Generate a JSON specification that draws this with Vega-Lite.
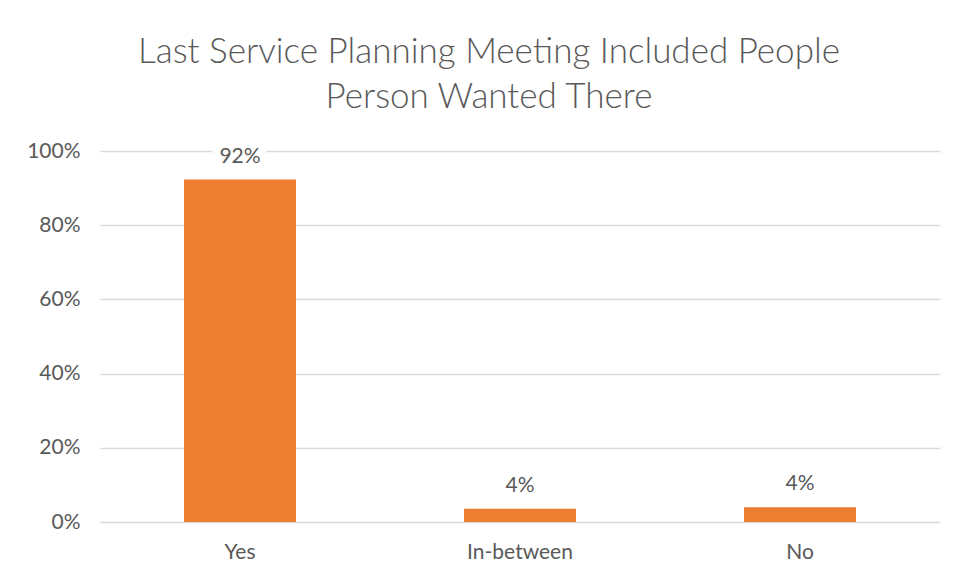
{
  "$schema": "https://vega.github.io/schema/vega-lite/v6.json",
  "width": 840,
  "height": 371,
  "autosize": {"type": "none"},
  "padding": {"left": 100, "top": 151, "right": 18, "bottom": 57},
  "background": "white",
  "title": {
    "text": ["Last Service Planning Meeting Included People", "Person Wanted There"],
    "font": "Lato",
    "fontSize": 35,
    "fontWeight": 300,
    "color": "#595959",
    "anchor": "middle",
    "dx": -31,
    "offset": 25,
    "lineHeight": 45
  },
  "config": {
    "view": {"stroke": null},
    "font": "Lato"
  },
  "data": {
    "values": [
      {"answer": "Yes", "share": 0.923, "label": "92%"},
      {"answer": "In-between", "share": 0.036, "label": "4%"},
      {"answer": "No", "share": 0.04, "label": "4%"}
    ]
  },
  "encoding": {
    "x": {
      "field": "answer",
      "type": "nominal",
      "sort": null,
      "scale": {"paddingInner": 0.6, "paddingOuter": 0.3},
      "axis": {
        "title": null,
        "labelAngle": 0,
        "labelFont": "Lato",
        "labelFontSize": 21,
        "labelColor": "#595959",
        "labelPadding": 19,
        "ticks": false,
        "domain": false
      }
    },
    "y": {
      "field": "share",
      "type": "quantitative",
      "scale": {"domain": [0, 1], "nice": false},
      "axis": {
        "title": null,
        "format": ".0%",
        "values": [0, 0.2, 0.4, 0.6, 0.8, 1],
        "labelFont": "Lato",
        "labelFontSize": 21,
        "labelColor": "#595959",
        "labelPadding": 20,
        "ticks": false,
        "domain": false,
        "gridColor": "#D9D9D9",
        "gridWidth": 1.5
      }
    }
  },
  "layer": [
    {"mark": {"type": "bar", "color": "#ED7D31"}},
    {
      "mark": {"type": "text", "baseline": "bottom", "dy": -13, "fontSize": 21, "font": "Lato", "stroke": "white", "strokeWidth": 16, "fill": "white"},
      "encoding": {"text": {"field": "label"}}
    },
    {
      "mark": {"type": "text", "baseline": "bottom", "dy": -13, "fontSize": 21, "font": "Lato", "color": "#595959"},
      "encoding": {"text": {"field": "label"}}
    }
  ]
}
